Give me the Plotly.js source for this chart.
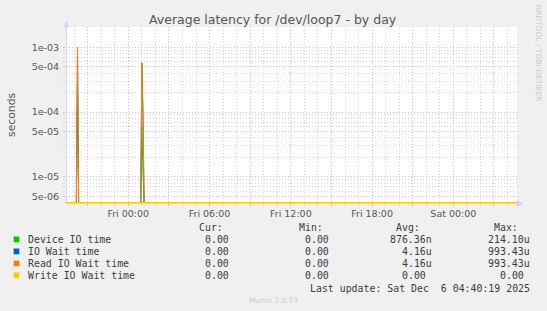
<!DOCTYPE html>
<html><head><meta charset="utf-8">
<script src="https://cdn.plot.ly/plotly-3.0.1.min.js"></script>
<style>html,body{margin:0;padding:0;background:#f0f0f0;} #chart{width:547px;height:311px;}</style>
</head><body><div id="chart"></div>
<script>
// ---- data ----
const sampleTimes = ["2025-12-04 19:25","2025-12-04 20:10","2025-12-04 20:15","2025-12-04 20:20",
                     "2025-12-05 00:55","2025-12-05 01:00","2025-12-05 01:05","2025-12-05 01:10","2025-12-06 04:40"];
const deviceIO    = [0, 0, 214.10e-6, 0, 0, 60e-6, 12e-6, 0, 0];
const ioWait      = [0, 0, 993.43e-6, 0, 0, 578e-6, 92e-6, 0, 0];
const readIOWait  = [0, 0, 993.43e-6, 0, 0, 578e-6, 92e-6, 0, 0];
const writeIOWait = [0, 0, 0, 0, 0, 0, 0, 0, 0];

const seriesNames  = ["Device IO time", "IO Wait time", "Read IO Wait time", "Write IO Wait time"];
const seriesColors = ["#00cc00", "#0066b3", "#ff8000", "#ffcc00"];
const curVals = ["0.00", "0.00", "0.00", "0.00"];
const minVals = ["0.00", "0.00", "0.00", "0.00"];
const avgVals = ["876.36n", "4.16u", "4.16u", "0.00"];
const maxVals = ["214.10u", "993.43u", "993.43u", "0.00"];

const yTickVals = [5e-6, 1e-5, 5e-5, 1e-4, 5e-4, 1e-3];
const yTickText = ["5e-06", "1e-05", "5e-05", "1e-04", "5e-04", "1e-03"];
const xLabelTimes = ["2025-12-05 00:00","2025-12-05 06:00","2025-12-05 12:00","2025-12-05 18:00","2025-12-06 00:00"];
const xTickLabels = ["Fri 00:00", "Fri 06:00", "Fri 12:00", "Fri 18:00", "Sat 00:00"];
const xRange = ["2025-12-04 19:24", "2025-12-06 04:42"];
const yLogRange = [-5.406, -2.686];
const lastUpdate = "Last update: Sat Dec \u00a06 04:40:19 2025";

// ---- layout geometry (pixels) ----
const W = 547, H = 311, L = 66, R = 30, T = 27, B = 108;
const PW = W - L - R, PH = H - T - B;
const px = x => (x - L) / PW;
const py = y => (H - B - y) / PH;

const floorVal = Math.pow(10, yLogRange[0]);
const toPlot = arr => arr.map(v => v > 0 ? v : floorVal);

const allSeries = [deviceIO, ioWait, readIOWait, writeIOWait];
const traces = allSeries.map((s, i) => ({
  type: "scatter", mode: "lines", x: sampleTimes, y: toPlot(s),
  name: seriesNames[i], line: {color: seriesColors[i], width: i === 3 ? 2 : 1},
  hoverinfo: "skip", showlegend: false
}));

// x ticks every 3 hours (red), labels only at 6 hour marks
const xTickVals = [], xTickText = [];
for (let h = 21; h <= 21 + 30; h += 3) {
  const ms = Date.UTC(2025, 11, 4, h);
  const s = new Date(ms).toISOString().slice(0, 16).replace("T", " ");
  xTickVals.push(s);
  const idx = xLabelTimes.indexOf(s);
  xTickText.push(idx >= 0 ? xTickLabels[idx] : "");
}
// y minor grid at 2..9 (except 5) multiples
const yMinor = [];
for (let e = -6; e <= -3; e++) [2,3,4,6,7,8,9].forEach(m => yMinor.push(m * Math.pow(10, e)));

const red = "#eeb4b4", grey = "#d8d8d8", axisCol = "#cfd6f8";
const txt = "#555555", legTxt = "#3c3c3c";

const ann = [];
ann.push({text: "Average latency for /dev/loop7 - by day", x: px(273), y: py(19.5), xref: "paper", yref: "paper",
  xanchor: "center", yanchor: "middle", showarrow: false, font: {family: "DejaVu Sans", size: 12.5, color: txt}});
ann.push({text: "seconds", x: px(11), y: py(115), xref: "paper", yref: "paper", textangle: -90,
  xanchor: "center", yanchor: "middle", showarrow: false, font: {family: "DejaVu Sans", size: 10.8, color: txt}});
ann.push({text: "RRDTOOL / TOBI OETIKER", x: px(538.5), y: py(53.3), xref: "paper", yref: "paper", textangle: 90,
  xanchor: "center", yanchor: "middle", showarrow: false, font: {family: "DejaVu Sans", size: 7.5, color: "#cccccc"}});
ann.push({text: "Munin 2.0.73", x: px(273), y: py(300), xref: "paper", yref: "paper",
  xanchor: "center", yanchor: "middle", showarrow: false, font: {family: "DejaVu Sans", size: 7.5, color: "#cccccc"}});

const mono = {family: "DejaVu Sans Mono", size: 9.9, color: legTxt};
const addT = (t, x, y, anchor) => ann.push({text: t, x: px(x), y: py(y), xref: "paper", yref: "paper",
  xanchor: anchor, yanchor: "middle", showarrow: false, font: mono});
const colEdge = [237.3, 337.0, 434.3, 532.3];
const charW = 5.96;
const headers = ["Cur:", "Min:", "Avg:", "Max:"];
headers.forEach((h, c) => addT(h, colEdge[c] - 2 * charW, 227.5, "right"));
const rowY = [239.4, 251.4, 263.4, 275.3];
const shapes = [];
seriesNames.forEach((n, i) => {
  addT(n, 26.2, rowY[i], "left");
  [curVals, minVals, avgVals, maxVals].forEach((col, c) => {
    const v = col[i];
    const suffixed = /[a-zA-Z]$/.test(v);
    addT(v, suffixed ? colEdge[c] : colEdge[c] - charW, rowY[i], "right");
  });
  shapes.push({type: "rect", xref: "paper", yref: "paper", x0: px(13.6), x1: px(19.4), y0: py(rowY[i] - 2.9), y1: py(rowY[i] + 2.9),
    fillcolor: seriesColors[i], line: {width: 0}});
});
addT(lastUpdate, 532.3, 288.2, "right");

// axis lines with arrows
shapes.push({type: "line", xref: "paper", yref: "paper", x0: px(66.5), x1: px(66.5), y0: py(203.5), y1: py(25), line: {color: axisCol, width: 1}, layer: "below"});
shapes.push({type: "path", xref: "paper", yref: "paper",
  path: `M ${px(63.5)},${py(27)} L ${px(69.5)},${py(27)} L ${px(66.5)},${py(21)} Z`, fillcolor: axisCol, line: {width: 0}});
shapes.push({type: "line", xref: "paper", yref: "paper", x0: px(66), x1: px(519), y0: py(203.5), y1: py(203.5), line: {color: axisCol, width: 1}, layer: "below"});
shapes.push({type: "path", xref: "paper", yref: "paper",
  path: `M ${px(517)},${py(200)} L ${px(517)},${py(207)} L ${px(523.5)},${py(203.5)} Z`, fillcolor: axisCol, line: {width: 0}});

const layout = {
  width: W, height: H, margin: {l: L, r: R, t: T, b: B, pad: 0},
  paper_bgcolor: "#f0f0f0", plot_bgcolor: "#ffffff", showlegend: false,
  font: {family: "DejaVu Sans", size: 9.5, color: txt},
  xaxis: {type: "date", range: xRange, tickmode: "array", tickvals: xTickVals, ticktext: xTickText,
    showgrid: true, gridcolor: red, griddash: "1px,2px", gridwidth: 1,
    ticks: "outside", ticklen: 2, tickcolor: red, showline: false, zeroline: false,
    tickfont: {family: "DejaVu Sans", size: 9.5, color: txt},
    minor: {dtick: 3600000, showgrid: true, gridcolor: grey, griddash: "1px,2px", ticks: "outside", ticklen: 2, tickcolor: grey},
    fixedrange: true},
  yaxis: {type: "log", range: yLogRange, tickmode: "array", tickvals: yTickVals, ticktext: yTickText,
    showgrid: true, gridcolor: red, griddash: "1px,2px", gridwidth: 1,
    ticks: "outside", ticklen: 2, tickcolor: red, showline: false, zeroline: false,
    tickfont: {family: "DejaVu Sans", size: 9.5, color: txt}, ticklabelstandoff: 2,
    minor: {tickmode: "array", tickvals: yMinor, showgrid: true, gridcolor: grey, griddash: "1px,2px", ticks: "outside", ticklen: 2, tickcolor: grey},
    fixedrange: true},
  annotations: ann, shapes: shapes
};
Plotly.newPlot("chart", traces, layout, {staticPlot: true, displayModeBar: false});
</script></body></html>
